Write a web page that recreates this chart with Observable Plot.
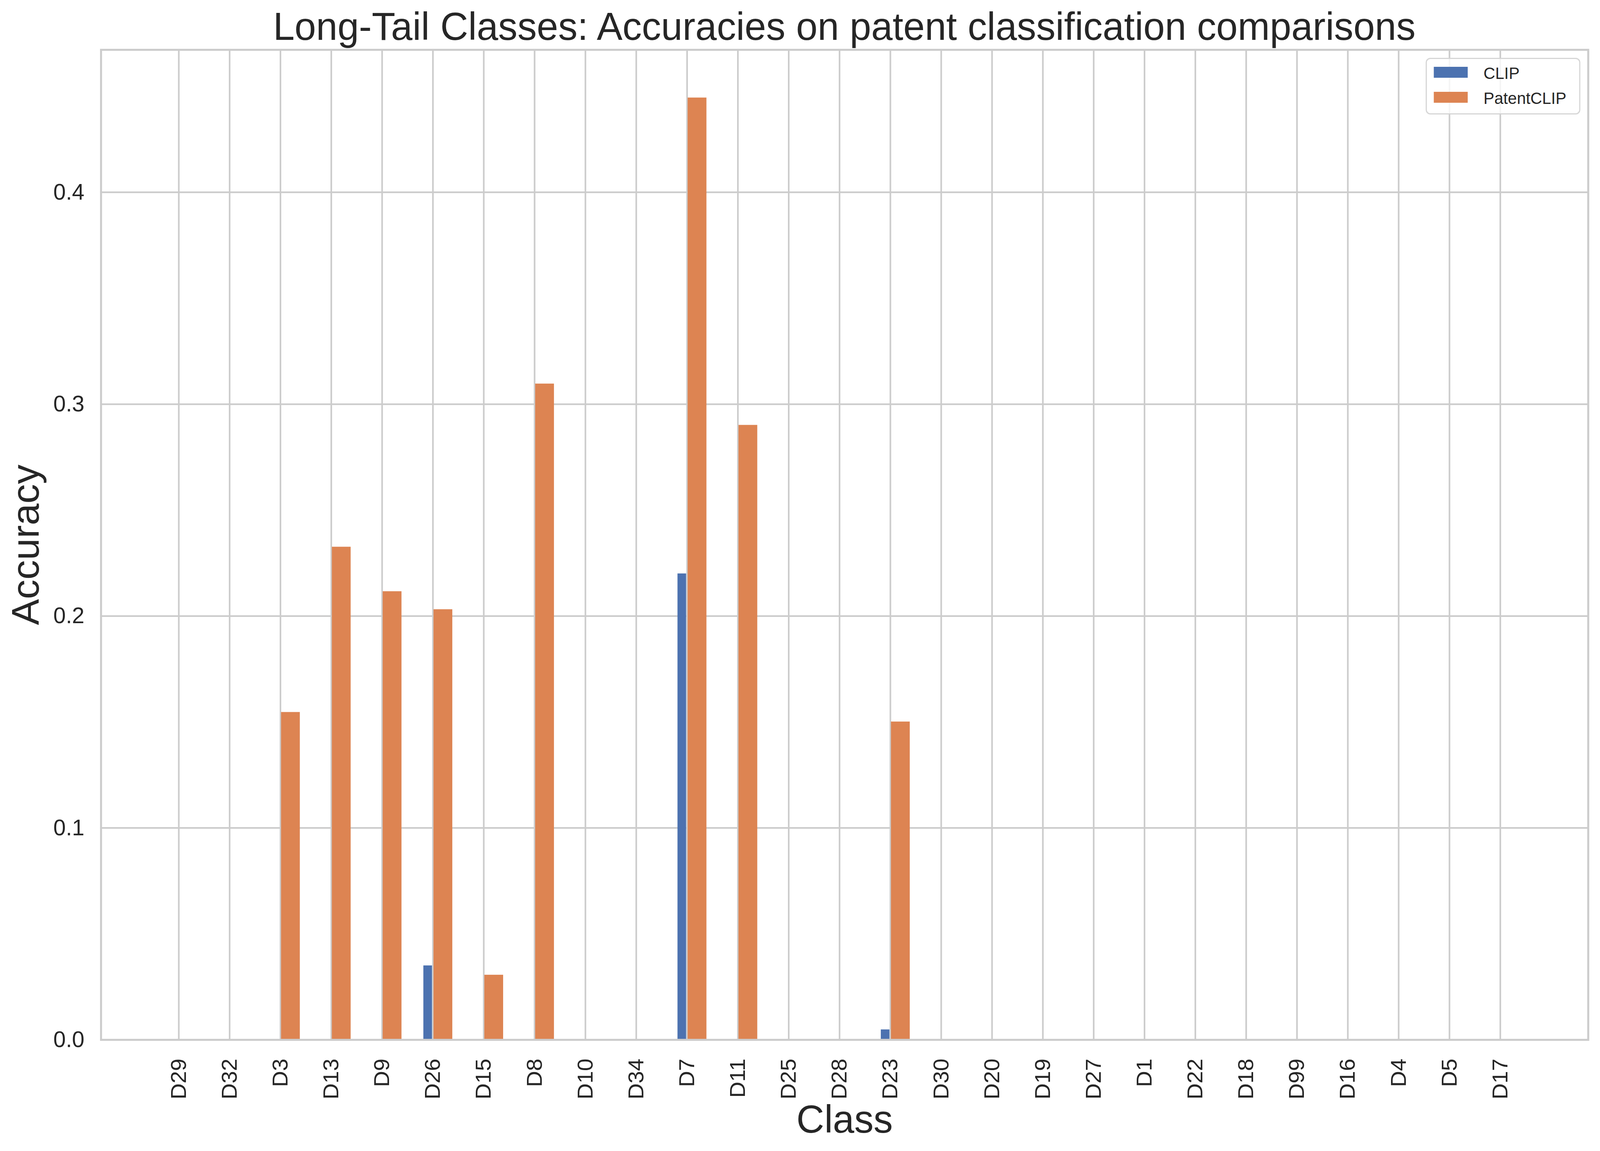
<!DOCTYPE html>
<html>
<head>
<meta charset="utf-8">
<script src="https://cdn.jsdelivr.net/npm/d3@7"></script>
<script src="https://cdn.jsdelivr.net/npm/@observablehq/plot@0.6"></script>
<style>
  html, body { margin: 0; padding: 0; background: #fff; overflow: hidden; }
  #wrap { position: relative; width: 4149px; height: 2946px; font-family: "Liberation Sans", Arial, sans-serif; color: #262626; overflow: hidden; transform-origin: 0 0; }
  #title { box-sizing: content-box; height: 110px; line-height: 110px; padding-top: 12px; margin-left: 261px; width: 3857px; text-align: center; font-size: 100px; white-space: nowrap; }
  #chart svg { display: block; }
  #legend { position: absolute; left: 3697px; top: 148px; width: 395px; height: 139px; border: 3.3px solid rgba(204,204,204,0.8); border-radius: 12px; background: rgba(255,255,255,0.8); }
  .sw { position: absolute; left: 18px; width: 88px; height: 28px; }
  .lt { position: absolute; left: 147px; font-size: 42px; line-height: 42px; white-space: nowrap; }
</style>
</head>
<body>
<div id="wrap">
  <div id="title">Long-Tail Classes: Accuracies on patent classification comparisons</div>
  <div id="chart"></div>
  <div id="legend"></div>
</div>
<script>
// ---- data ----
const classes = ["D29","D32","D3","D13","D9","D26","D15","D8","D10","D34","D7","D11","D25","D28","D23","D30","D20","D19","D27","D1","D22","D18","D99","D16","D4","D5","D17"];
const clipAcc    = [0, 0, 0, 0, 0, 0.0354, 0, 0, 0, 0, 0.2204, 0, 0, 0, 0.0052, 0, 0, 0, 0, 0, 0, 0, 0, 0, 0, 0, 0];
const patentAcc  = [0, 0, 0.155, 0.233, 0.212, 0.2035, 0.031, 0.310, 0, 0, 0.445, 0.2905, 0, 0, 0.1505, 0, 0, 0, 0, 0, 0, 0, 0, 0, 0, 0, 0];
const seriesNames = ["CLIP", "PatentCLIP"];
const seriesColors = ["#4c72b0", "#dd8452"];
const yTicks = [0, 0.1, 0.2, 0.3, 0.4];

const rows = classes.map((c, i) => ({i, cls: c, clip: clipAcc[i], patent: patentAcc[i]}));
const n = classes.length;
const lo = -0.2, hi = (n - 1) + 0.4, pad = 0.05 * (hi - lo);
const yMax = d3.max([...clipAcc, ...patentAcc]) * 1.05;

const chart = Plot.plot({
  width: 4149,
  height: 2824,
  marginTop: 5,
  marginBottom: 285,
  marginLeft: 261.5,
  marginRight: 31,
  style: {fontFamily: '"Liberation Sans", Arial, sans-serif', color: "#262626", background: "transparent"},
  x: {type: "linear", domain: [lo - pad, hi + pad]},
  y: {domain: [0, yMax]},
  marks: [
    Plot.gridX({ticks: d3.range(n), stroke: "#cccccc", strokeOpacity: 1, strokeWidth: 4.2}),
    Plot.gridY({ticks: yTicks.slice(1), stroke: "#cccccc", strokeOpacity: 1, strokeWidth: 4.2}),
    Plot.rectY(rows.filter(d => d.clip > 0), {x1: d => d.i - 0.2, x2: d => d.i, y: "clip", fill: seriesColors[0], insetLeft: 2, insetRight: 2, insetTop: 2}),
    Plot.rectY(rows.filter(d => d.patent > 0), {x1: d => d.i, x2: d => d.i + 0.4, y: "patent", fill: seriesColors[1], insetLeft: 2, insetRight: 2, insetTop: 2}),
    Plot.frame({stroke: "#cccccc", strokeWidth: 5.2}),
    Plot.axisY({ticks: yTicks, tickFormat: d3.format(".1f"), tickSize: 0, tickPadding: 43, fontSize: 58, label: null}),
    Plot.axisX({ticks: d3.range(n), tickFormat: i => classes[i], tickRotate: -90, tickSize: 0, tickPadding: 48, fontSize: 57, label: null}),
    Plot.text(["Accuracy"], {frameAnchor: "left", dx: -161.5, rotate: -90, textAnchor: "middle", lineAnchor: "bottom", fontSize: 100, fill: "#262626"}),
    Plot.text(["Class"], {frameAnchor: "bottom", dy: 237, textAnchor: "middle", lineAnchor: "bottom", fontSize: 100, fill: "#262626"})
  ]
});
document.getElementById("chart").appendChild(chart);

// legend
const legend = document.getElementById("legend");
seriesNames.forEach((name, k) => {
  const sw = document.createElement("div");
  sw.className = "sw";
  sw.style.top = (20 + k * 64) + "px";
  sw.style.background = seriesColors[k];
  legend.appendChild(sw);
  const t = document.createElement("div");
  t.className = "lt";
  t.style.top = (15.5 + k * 64) + "px";
  t.textContent = name;
  legend.appendChild(t);
});

// fit the 4149x2946 design into the actual viewport
function fit() {
  const sx = Math.min(1, window.innerWidth / 4149);
  const sy = Math.min(1, window.innerHeight / 2946);
  document.getElementById("wrap").style.transform = `scale(${sx}, ${sy})`;
}
fit();
window.addEventListener("resize", fit);
</script>
</body>
</html>
